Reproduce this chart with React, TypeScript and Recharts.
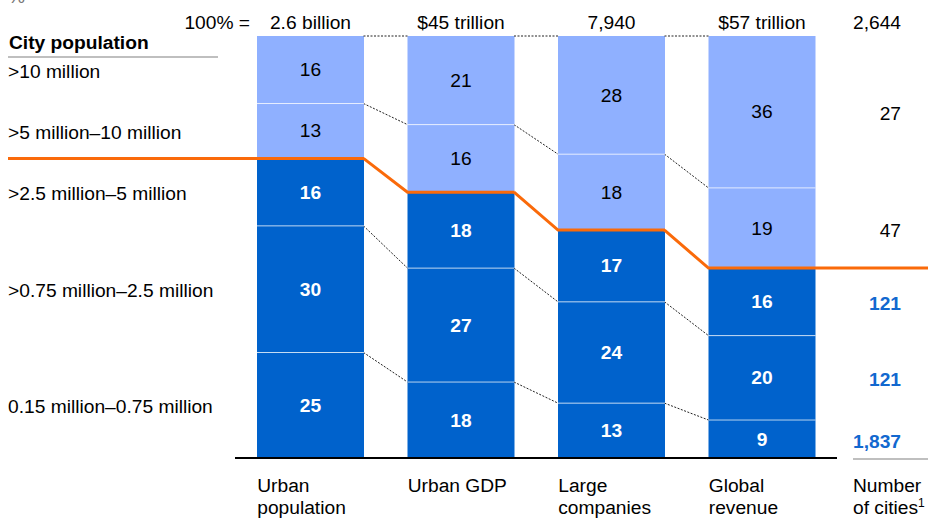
import { Bar, BarChart, Customized, LabelList, XAxis, YAxis } from 'recharts'

const categories = ['Urban\npopulation', 'Urban GDP', 'Large\ncompanies', 'Global\nrevenue']
const totals = ['2.6 billion', '$45 trillion', '7,940', '$57 trillion']

// share of each city-size band, % (bottom band first)
const small = [25, 18, 13, 9] // 0.15–0.75 million
const midSize = [30, 27, 24, 20] // >0.75–2.5 million
const large = [16, 18, 17, 16] // >2.5–5 million
const veryLarge = [13, 16, 18, 19] // >5–10 million
const mega = [16, 21, 28, 36] // >10 million

const bandLabels = [
  '0.15 million–0.75 million',
  '>0.75 million–2.5 million',
  '>2.5 million–5 million',
  '>5 million–10 million',
  '>10 million',
]
// number of cities, printed beside the last column (bottom band first)
const cityCounts = ['1,837', '121', '121', '47', '27']
const totalCities = '2,644'

const SERIES = [small, midSize, large, veryLarge, mega]
const KEYS = ['s0', 's1', 's2', 's3', 's4']

const data = categories.map((name, i) => ({
  name,
  total: totals[i],
  s0: small[i],
  s1: midSize[i],
  s2: large[i],
  s3: veryLarge[i],
  s4: mega[i],
}))

const cum = (i: number, k: number) => SERIES.slice(0, k + 1).reduce((s, arr) => s + arr[i], 0)
const leftTicks = SERIES.map((arr, k) => cum(0, k) - arr[0] / 2)

const W = 928
const H = 518
const CAT_GAP = 22
const GAP = CAT_GAP * 2
const FONT = '"Liberation Sans", Arial, sans-serif'
const FS = 19.2
const DARK = '#0062CC'
const LIGHT = '#8FB0FF'
const ORANGE = '#FA6A0A'
const BLUE_TXT = '#1268CF'

function segmentShape(k: number) {
  return (props: any) => {
    const { x, y, width, height, index } = props
    const v = SERIES[k][index]
    const ppu = height / v
    const dark = k < 3
    const py = (val: number) => y + (cum(index, k) - val) * ppu
    const last = index === categories.length - 1

    let orange = null
    if (k === 4) {
      const yO = py(cum(index, 2))
      const pts: number[][] = []
      if (index === 0) pts.push([8, yO])
      else pts.push([x - GAP, py(cum(index - 1, 2))], [x, yO])
      pts.push([x + width, yO])
      if (last) pts.push([W, yO])
      orange = (
        <polyline
          points={pts.map((p) => p.join(',')).join(' ')}
          fill="none"
          stroke={ORANGE}
          strokeWidth={3}
        />
      )
    }

    return (
      <g>
        <rect x={x} y={y} width={width} height={height} fill={dark ? DARK : LIGHT} />
        {k > 0 && (
          <line x1={x} x2={x + width} y1={y + height} y2={y + height} stroke="#fff" strokeOpacity={0.7} />
        )}
        {index > 0 && k !== 2 && (
          <line
            x1={x - GAP}
            y1={py(cum(index - 1, k))}
            x2={x}
            y2={y}
            stroke="#222"
            strokeWidth={1}
            strokeDasharray="2 1.5"
          />
        )}
        <text
          x={x + width / 2}
          y={y + height / 2}
          textAnchor="middle"
          dominantBaseline="central"
          fontFamily={FONT}
          fontSize={FS}
          fontWeight={dark ? 'bold' : 'normal'}
          fill={dark ? '#fff' : '#000'}
        >
          {v}
        </text>
        {last && (
          <text
            x={901}
            y={y + height / 2 + 2}
            textAnchor="end"
            dominantBaseline="central"
            fontFamily={FONT}
            fontSize={FS}
            fontWeight={dark ? 'bold' : 'normal'}
            fill={dark ? BLUE_TXT : '#000'}
          >
            {cityCounts[k]}
          </text>
        )}
        {orange}
      </g>
    )
  }
}

function CatTick({ x, payload }: any) {
  const lines = String(payload.value).split('\n')
  return (
    <text x={x - 53} y={492} fontFamily={FONT} fontSize={FS} fill="#000">
      {lines.map((l, i) => (
        <tspan key={i} x={x - 53} dy={i === 0 ? 0 : 22}>
          {l}
        </tspan>
      ))}
    </text>
  )
}

function LeftTick({ y, payload }: any) {
  const k = leftTicks.indexOf(payload.value)
  return (
    <text x={8} y={y + 1.5} dominantBaseline="central" fontFamily={FONT} fontSize={FS} fill="#000">
      {bandLabels[k]}
    </text>
  )
}

function Overlay() {
  return (
    <g fontFamily={FONT} fontSize={FS}>
      <text x={8} y={3} fill="#777">%</text>
      <text x={250} y={29} textAnchor="end" fill="#000">100% =</text>
      <text x={9} y={49} fontWeight="bold" fill="#000">City population</text>
      <line x1={8} x2={218} y1={57} y2={57} stroke="#aaa" strokeWidth={1.5} />
      <text x={853} y={29} fill="#000">{totalCities}</text>
      <line x1={853} x2={W} y1={459} y2={459} stroke="#aaa" strokeWidth={1.5} />
      <text x={853} y={492} fill="#000">Number</text>
      <text x={853} y={514} fill="#000">
        of cities<tspan dy={-7} fontSize={12}>1</tspan>
      </text>
    </g>
  )
}

export default function App() {
  return (
    <div style={{ position: 'absolute', left: 0, top: 0, width: W, height: H, background: '#fff' }}>
      <BarChart
        width={W}
        height={H}
        data={data}
        margin={{ top: 36, right: 91, bottom: 0, left: 0 }}
        barCategoryGap={CAT_GAP}
      >
        <XAxis
          dataKey="name"
          height={60}
          axisLine={{ stroke: '#000', strokeWidth: 2 }}
          tickLine={false}
          interval={0}
          tick={CatTick}
        />
        <YAxis
          width={235}
          domain={[0, 100]}
          ticks={leftTicks}
          interval={0}
          axisLine={false}
          tickLine={false}
          tick={LeftTick}
        />
        {KEYS.map((key, k) => (
          <Bar key={key} dataKey={key} stackId="a" isAnimationActive={false} shape={segmentShape(k)}>
            {k === 4 && (
              <LabelList
                dataKey="total"
                content={(p: any) => (
                  <text
                    x={p.x + p.width / 2}
                    y={29}
                    textAnchor="middle"
                    fontFamily={FONT}
                    fontSize={FS}
                    fill="#000"
                  >
                    {p.value}
                  </text>
                )}
              />
            )}
          </Bar>
        ))}
        <Customized component={Overlay} />
      </BarChart>
    </div>
  )
}
